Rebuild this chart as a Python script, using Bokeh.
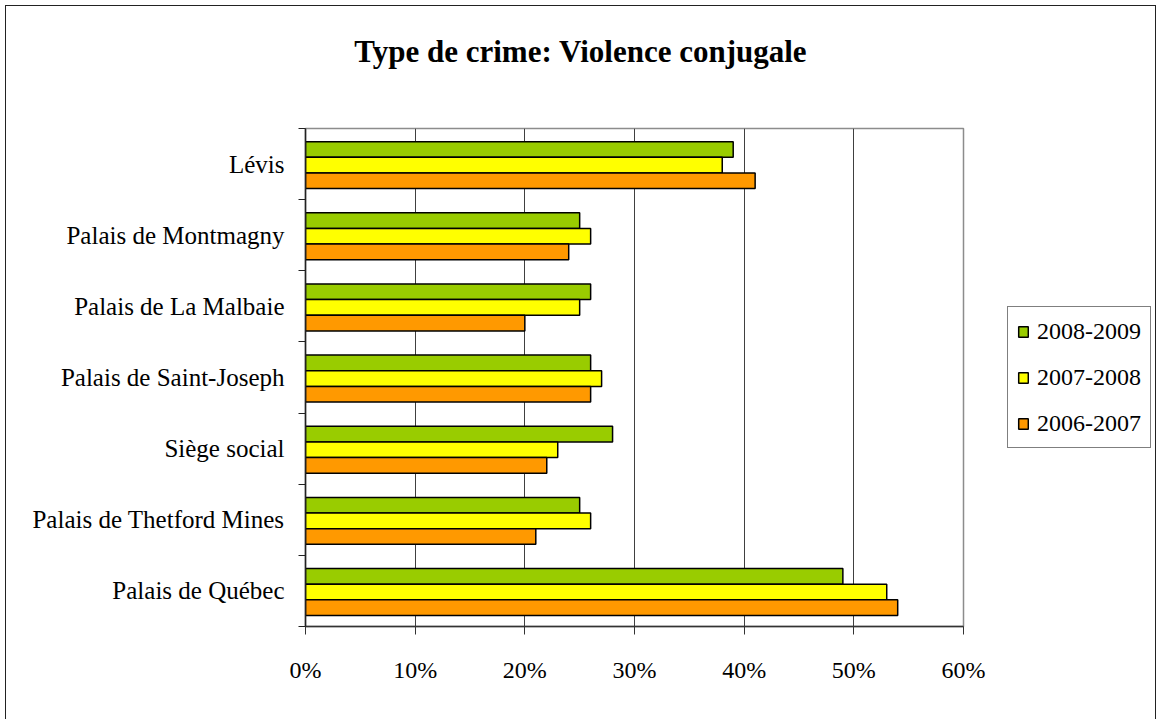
from bokeh.plotting import figure
from bokeh.layouts import column, row
from bokeh.models import (Range1d, LinearAxis, FixedTicker, NumeralTickFormatter, Legend,
                          LegendItem, ColumnDataSource, Grid, Div)
from bokeh.transform import dodge
from bokeh.embed import file_html
from bokeh.resources import INLINE

# Sites, top to bottom
sites = ["Lévis", "Palais de Montmagny", "Palais de La Malbaie", "Palais de Saint-Joseph",
         "Siège social", "Palais de Thetford Mines", "Palais de Québec"]

# Share of cases per period
v_2008_2009 = [0.39, 0.25, 0.26, 0.26, 0.28, 0.25, 0.49]
v_2007_2008 = [0.38, 0.26, 0.25, 0.27, 0.23, 0.26, 0.53]
v_2006_2007 = [0.41, 0.24, 0.20, 0.26, 0.22, 0.21, 0.54]

periods = ["2008-2009", "2007-2008", "2006-2007"]
colors = ["#99CC00", "#FFFF00", "#FF9900"]
x_ticks = [0.0, 0.1, 0.2, 0.3, 0.4, 0.5, 0.6]
title_text = "Type de crime: Violence conjugale"

FONT = "Liberation Serif"

n = len(sites)
# one unit per site, first site at the top
slot = [n - 0.5 - i for i in range(n)]
src = ColumnDataSource(dict(slot=slot, p0=v_2008_2009, p1=v_2007_2008, p2=v_2006_2007))

p = figure(width=987, height=621,
           y_range=Range1d(0, n), x_range=Range1d(0, 0.6),
           x_axis_location=None, y_axis_location=None,
           output_backend="svg", toolbar_location=None,
           min_border_left=299, min_border_right=30, min_border_top=30, min_border_bottom=93)
p.center = [r for r in p.center if not isinstance(r, Grid)]
p.background_fill_color = "white"
p.border_fill_color = "white"
p.outline_line_color = "#8c8c8c"
p.outline_line_width = 1.5
p.margin = 0

# vertical gridlines at every 10 %
p.add_layout(Grid(dimension=0, ticker=FixedTicker(ticks=x_ticks[1:-1]),
                  grid_line_color="#404040", grid_line_width=1))

# grouped horizontal bars
offsets = [0.205, -0.015, -0.235]
for key, off, col in zip(["p0", "p1", "p2"], offsets, colors):
    p.hbar(y=dodge("slot", off), left=0, right=key, height=0.22,
           fill_color=col, line_color="black", line_width=1.5, source=src)

# percentage axis
xaxis = LinearAxis(ticker=FixedTicker(ticks=x_ticks), formatter=NumeralTickFormatter(format="0%"),
                   axis_line_color="#333333", axis_line_width=1.5,
                   major_tick_line_color="#333333", major_tick_out=8, major_tick_in=0,
                   minor_tick_line_color=None, major_label_standoff=22,
                   major_label_text_font=FONT, major_label_text_font_size="24px",
                   major_label_text_color="black")
p.add_layout(xaxis, "below")

# group boundary ticks
tick_axis = LinearAxis(ticker=FixedTicker(ticks=list(range(n + 1))),
                       major_label_overrides={i: "" for i in range(n + 1)},
                       axis_line_color="#222222", axis_line_width=1.5,
                       major_tick_line_color="#222222", major_tick_out=7, major_tick_in=0,
                       minor_tick_line_color=None, major_label_standoff=0)
p.add_layout(tick_axis, "left")

# site names
name_axis = LinearAxis(ticker=FixedTicker(ticks=slot),
                       major_label_overrides={s: name for s, name in zip(slot, sites)},
                       axis_line_color=None, major_tick_line_color=None, minor_tick_line_color=None,
                       major_label_standoff=8, major_label_text_font=FONT,
                       major_label_text_font_size="25px", major_label_text_color="black")
p.add_layout(name_axis, "left")

# legend panel to the right of the chart; its key swatches lie underneath the legend box
lf = figure(width=162, height=621, x_range=Range1d(0, 1), y_range=Range1d(0, 1),
            x_axis_location=None, y_axis_location=None,
            output_backend="svg", toolbar_location=None,
            min_border=0, min_border_left=0, min_border_right=0,
            min_border_top=0, min_border_bottom=0)
lf.center = [r for r in lf.center if not isinstance(r, Grid)]
lf.outline_line_color = None
lf.background_fill_color = "white"
lf.border_fill_color = "white"
lf.margin = 0
swatches = []
for col in colors:
    swatches.append(lf.hbar(y=[0.5], left=[0.4], right=[0.45], height=0.01, fill_color=col,
                            line_color="black", line_width=1.5, level="underlay"))

legend = Legend(items=[LegendItem(label=lab, renderers=[r]) for lab, r in zip(periods, swatches)],
                location=(14, 178), orientation="vertical",
                border_line_color="black", border_line_width=1,
                background_fill_color="white", background_fill_alpha=1.0,
                label_text_font=FONT, label_text_font_size="24px", label_text_color="black",
                glyph_width=12, glyph_height=13, label_height=30, spacing=16,
                padding=9, margin=0, label_standoff=8)
lf.add_layout(legend, "center")

title = Div(text=title_text, width=1149, height=92, margin=0,
            styles={"font-family": FONT, "font-size": "31px", "font-weight": "bold",
                    "text-align": "center", "line-height": "92px", "color": "black",
                    "background-color": "white"})

page = column(title, row(p, lf, spacing=0, margin=0), spacing=0, margin=(5, 0, 0, 5),
              styles={"border-left": "1px solid #222", "border-top": "1px solid #222",
                      "border-right": "1px solid #222", "background-color": "white"})

open("out.html", "w").write(file_html(page, INLINE))
